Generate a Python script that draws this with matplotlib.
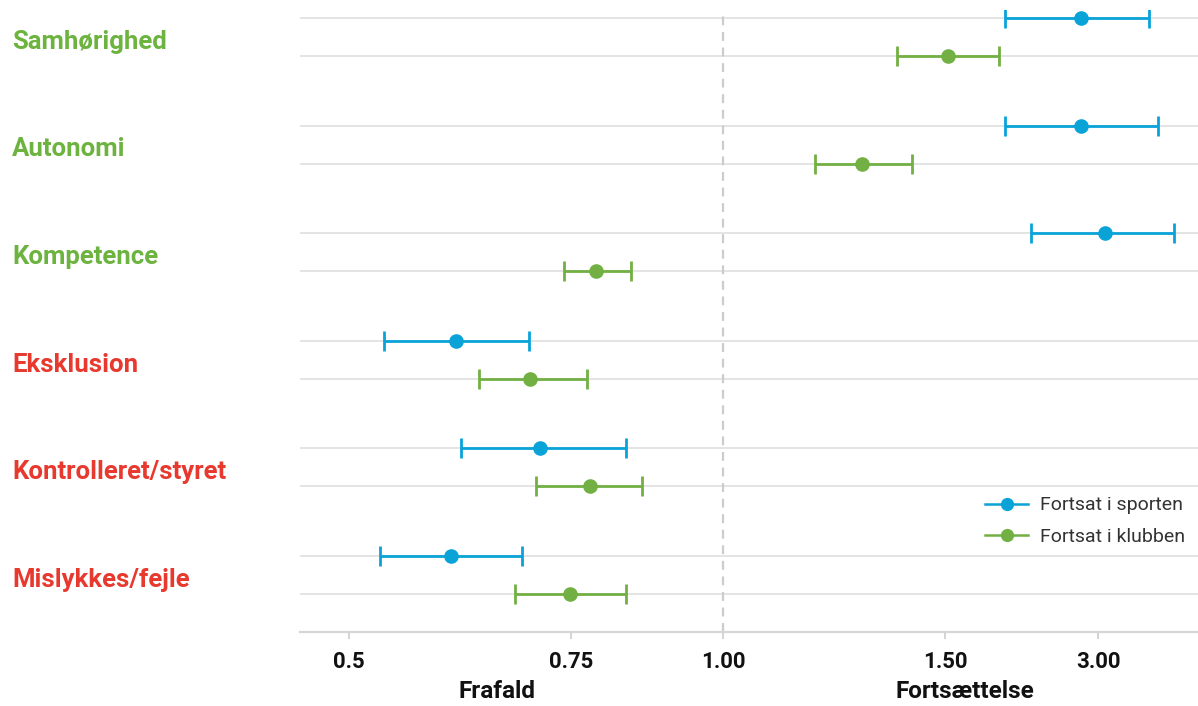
import numpy as np
import matplotlib
matplotlib.use('Agg')
import matplotlib.pyplot as plt
import matplotlib.transforms as mtransforms
from matplotlib.lines import Line2D

# data (odds ratios)
categories = ['Samhørighed', 'Autonomi', 'Kompetence', 'Eksklusion', 'Kontrolleret/styret', 'Mislykkes/fejle']
label_colors = ['#6db33f', '#6db33f', '#6db33f', '#e8392f', '#e8392f', '#e8392f']

sport_est = [2.83, 2.83, 3.07, 0.620, 0.715, 0.615]
sport_lo = [2.09, 2.09, 2.34, 0.539, 0.626, 0.535]
sport_hi = [3.50, 3.59, 3.74, 0.703, 0.840, 0.695]

club_est = [1.53, 1.313, 0.791, 0.704, 0.781, 0.749]
club_lo = [1.392, 1.207, 0.742, 0.646, 0.711, 0.687]
club_hi = [2.03, 1.426, 0.849, 0.776, 0.867, 0.840]

tick_values = [0.5, 0.75, 1.0, 1.5, 3.0]
tick_labels = ['0.5', '0.75', '1.00', '1.50', '3.00']

blue = '#0aa3d8'
green = '#72b043'

# the axis is piecewise linear between the labelled ticks
scale_vals = np.array([0.4, 0.5, 0.75, 1.0, 1.5, 3.0, 4.5])
scale_pos = np.array([-1.0, 0.0, 1.0, 1.685, 2.685, 3.374, 4.063])


def forward(x):
    return np.interp(x, scale_vals, scale_pos)


def inverse(p):
    return np.interp(p, scale_pos, scale_vals)


plt.rcParams['font.family'] = ['Roboto', 'DejaVu Sans']

fig = plt.figure(figsize=(11.98, 7.06), dpi=100)
ax = fig.add_axes([300 / 1198, 1 - 632 / 706, 1 - 300 / 1198, 622 / 706])
ax.set_xscale('function', functions=(forward, inverse))

step = 2.83
group_y = np.array([-i * step for i in range(len(categories))])
y_sport = group_y + 0.5
y_club = group_y - 0.5

# grid lines at every row
for y in np.concatenate([y_sport, y_club]):
    ax.axhline(y, color='#dddddd', lw=1.1, zorder=0)

ax.axvline(1.0, color='#cccccc', lw=1.6, ls=(0, (4, 3)), zorder=1)

s_err = [np.array(sport_est) - np.array(sport_lo), np.array(sport_hi) - np.array(sport_est)]
c_err = [np.array(club_est) - np.array(club_lo), np.array(club_hi) - np.array(club_est)]

ax.errorbar(sport_est, y_sport, xerr=s_err, fmt='o', color=blue, ms=9.5,
            elinewidth=2.0, capsize=7.5, capthick=2.0, zorder=3)
ax.errorbar(club_est, y_club, xerr=c_err, fmt='o', color=green, ms=9.5,
            elinewidth=2.0, capsize=7.5, capthick=2.0, zorder=3)

ax.set_xlim(inverse(-0.221), inverse(3.824))
ax.set_ylim(0.5 - 614 / 38, 0.5 + 8 / 38)

ax.set_xticks(tick_values)
ax.set_xticklabels(tick_labels, fontsize=16, fontweight='bold', color='#111111')
ax.xaxis.set_minor_locator(matplotlib.ticker.NullLocator())
ax.tick_params(axis='x', length=5, width=1.2, color='#cccccc', pad=9)
ax.set_yticks([])

for side in ['top', 'right', 'left']:
    ax.spines[side].set_visible(False)
ax.spines['bottom'].set_color('#d6d6d6')
ax.spines['bottom'].set_linewidth(1.6)

# category labels at left
trans = mtransforms.blended_transform_factory(fig.transFigure, ax.transData)
for cat, col, gy in zip(categories, label_colors, group_y):
    fig.text(12 / 1198, gy - 0.13, cat, transform=trans, color=col, fontsize=18.5,
             fontweight='bold', va='center', ha='left')

fig.text(497 / 1198, 1 - 692 / 706, 'Frafald', fontsize=17.5, fontweight='bold',
         ha='center', va='center', color='#111111')
fig.text(965 / 1198, 1 - 692 / 706, 'Fortsættelse', fontsize=17.5, fontweight='bold',
         ha='center', va='center', color='#111111')

handles = [Line2D([], [], color=blue, marker='o', ms=8.5, lw=1.8),
           Line2D([], [], color=green, marker='o', ms=8.5, lw=1.8)]
leg = ax.legend(handles, ['Fortsat i sporten', 'Fortsat i klubben'], loc='lower right',
                bbox_to_anchor=(1.005, 0.11), frameon=False, fontsize=14,
                handlelength=2.2, handletextpad=0.6, labelspacing=0.7)
for t in leg.get_texts():
    t.set_color('#333333')

fig.savefig('out.png', dpi=100)
